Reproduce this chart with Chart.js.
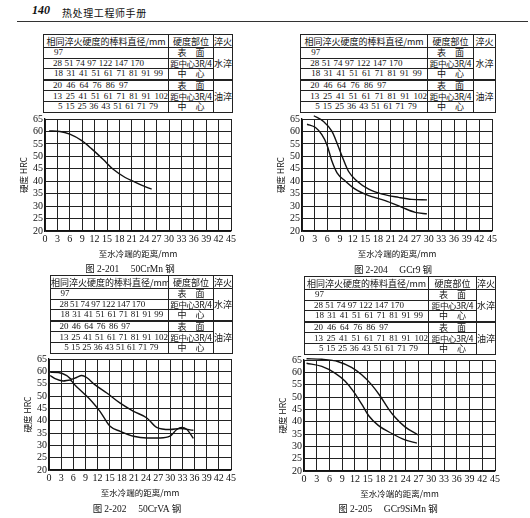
<!DOCTYPE html>
<html><head><meta charset="utf-8">
<script src="https://cdn.jsdelivr.net/npm/chart.js@4.4.0/dist/chart.umd.min.js"></script>
<style>
body{margin:0;width:530px;height:518px;background:#fff;position:relative;overflow:hidden;font-family:"Noto Sans CJK SC",sans-serif;color:#111}
.hdr{position:absolute;top:5px;font-size:10px;white-space:nowrap}
.rule{position:absolute;left:17px;top:21px;width:511px;height:1px;background:#333}
table.t{position:absolute;border-collapse:collapse;table-layout:fixed;font-size:9px}
table.t td{border:1px solid #222;padding:0;white-space:nowrap;overflow:hidden;text-align:center;line-height:9px;height:9.6px}
table.t tr.h td{height:12px}
table.t tr.oil td{border-top:2px solid #222}
table.t td.n{text-align:left;font-family:"Liberation Serif",serif;font-size:9px}
.n div{display:flex;justify-content:space-between}
.cap{position:absolute;font-size:9.5px;white-space:nowrap;transform:translateX(-50%)}
.cap b{font-weight:normal;font-family:"Liberation Serif",serif}
</style></head>
<body>
<div class="hdr" style="left:32px;font:italic bold 12px 'Liberation Serif',serif;top:3px">140</div>
<div class="hdr" style="left:62px;letter-spacing:0.6px">热处理工程师手册</div>
<div class="rule"></div>
<script>
// hardness curves, distance from quenched end (mm) vs HRC
const crmnDist = [1, 3.6, 6, 8.9, 11.3, 14.1, 16.5, 19.4, 21.4, 23.8, 25.8]
const crmnHrc  = [60.2, 60, 58.9, 56.3, 53, 48.7, 44.8, 41.5, 39.9, 38.1, 36.8]

const gcr9UpDist = [2.8, 5.1, 7.1, 8.3, 9.5, 11, 13, 15.8, 19, 22.9, 26, 29.6]
const gcr9UpHrc  = [66.3, 64, 60, 55.3, 50, 44, 40.1, 36.8, 34.8, 33.5, 32.7, 32.5]
const gcr9LoDist = [1.2, 3.2, 4.7, 5.9, 7.1, 8.3, 10.3, 12.6, 15.8, 19.7, 23.7, 26.8, 29.6]
const gcr9LoHrc  = [62.9, 61.6, 58.7, 54.7, 48, 43.4, 40, 36.8, 34.2, 32.2, 29.5, 27.5, 26.9]

const crvaUpDist = [0.3, 2.3, 4.4, 5.6, 6.8, 8.1, 9.3, 11.4, 14.3, 17.6, 20.9, 24.2, 26.6, 29.9, 32.4, 35.7]
const crvaUpHrc  = [59.6, 59.5, 58.3, 56.8, 57.5, 58.3, 57.5, 54.5, 51.2, 47.1, 43.8, 41.1, 37.3, 36.4, 36.8, 36.1]
const crvaLoDist = [0.3, 1.5, 3.5, 5.2, 6.4, 8.5, 10.6, 12.6, 15.1, 17.6, 20.9, 24.2, 27.5, 29.9, 31.6, 32.8, 34.1, 35.7]
const crvaLoHrc  = [58.3, 57, 56.1, 56.5, 54.5, 51.2, 47.8, 43.8, 37.7, 35.7, 33.7, 33, 33, 33.7, 36.4, 37.3, 36.4, 32.8]

const simnUpDist = [0.6, 4.2, 8.1, 11.2, 13.6, 15.9, 17.9, 19.9, 21.4, 23.8, 26.9]
const simnUpHrc  = [65.5, 65.3, 64.3, 62, 59, 55, 50.5, 45.2, 41.9, 37.9, 34.6]
const simnLoDist = [0.6, 4.2, 7.3, 9.7, 11.6, 13.6, 15.2, 17.5, 20.7, 23.8, 26.6]
const simnLoHrc  = [63.7, 62.4, 59.7, 56.4, 52.4, 47.1, 42.5, 38.5, 35.2, 32.6, 31.3]

// bar diameters giving equal hardness (same table on all four figures)
const waterSurface = [97]
const waterMid = [28, 51, 74, 97, 122, 147, 170]
const waterCore = [18, 31, 41, 51, 61, 71, 81, 91, 99]
const oilSurface = [20, 46, 64, 76, 86, 97]
const oilMid = [13, 25, 41, 51, 61, 71, 81, 91, 102]
const oilCore = [5, 15, 25, 36, 43, 51, 61, 71, 79]

const distTicks = [0, 45, 3]
const hrcTicks = [20, 65, 5]

// where each number row sits inside the first column (px, for a 125px column)
const rowSpan = [[10, 24], [9, 100], [10, 119], [9, 84], [9, 124], [14, 114]]

const panels = [
  { L:45, T:117, R:231, B:231, tbl:[43,34,125,45,19], cap:['2-201','50CrMn'], capX:130, capY:261,
    series:[{d:crmnDist, h:crmnHrc}] },
  { L:302, T:117, R:492, B:231, tbl:[300,34,127,46,22], cap:['2-204','GCr9'], capX:393, capY:262,
    series:[{d:gcr9UpDist, h:gcr9UpHrc, noclip:true}, {d:gcr9LoDist, h:gcr9LoHrc}] },
  { L:49, T:357, R:231, B:470, tbl:[50,275,118,45,19], cap:['2-202','50CrVA'], capX:137, capY:501,
    series:[{d:crvaUpDist, h:crvaUpHrc}, {d:crvaLoDist, h:crvaLoHrc}] },
  { L:304, T:358, R:495, B:471, tbl:[304,276,124,48,19], cap:['2-205','GCr9SiMn'], capX:388, capY:501,
    series:[{d:simnUpDist, h:simnUpHrc, noclip:true}, {d:simnLoDist, h:simnLoHrc}] }
]

function nums(arr, k, c1){
  const s = c1/125, [a,b] = rowSpan[k]
  return `<div style="margin-left:${a*s}px;width:${(b-a)*s}px">` + arr.map(v=>`<span>${v}</span>`).join('') + '</div>'
}

function makeTable(p){
  const [x,y,c1,c2,c3] = p.tbl
  const t = document.createElement('table')
  t.className = 't'
  t.style.left = x+'px'; t.style.top = y+'px'; t.style.width = (c1+c2+c3)+'px'
  const mid = 'style="font-size:8.5px;letter-spacing:-0.3px"'
  t.innerHTML = `<colgroup><col style="width:${c1}px"><col style="width:${c2}px"><col style="width:${c3}px"></colgroup>
  <tr class="h"><td>相同淬火硬度的棒料直径/mm</td><td>硬度部位</td><td>淬火</td></tr>
  <tr><td class="n">${nums(waterSurface,0,c1)}</td><td>表　面</td><td rowspan="3">水淬</td></tr>
  <tr><td class="n">${nums(waterMid,1,c1)}</td><td ${mid}>距中心3R/4</td></tr>
  <tr><td class="n">${nums(waterCore,2,c1)}</td><td>中　心</td></tr>
  <tr class="oil"><td class="n">${nums(oilSurface,3,c1)}</td><td>表　面</td><td rowspan="3">油淬</td></tr>
  <tr><td class="n">${nums(oilMid,4,c1)}</td><td ${mid}>距中心3R/4</td></tr>
  <tr><td class="n">${nums(oilCore,5,c1)}</td><td>中　心</td></tr>`
  document.body.appendChild(t)
}

function makeChart(p){
  const padL = 32, padT = 6, padR = 8, axH = 31
  const w = p.R - p.L + padL + padR, h = p.B - p.T + padT + axH
  const cv = document.createElement('canvas')
  cv.width = w; cv.height = h
  cv.style.cssText = `position:absolute;left:${p.L-padL}px;top:${p.T-padT}px;width:${w}px;height:${h}px`
  document.body.appendChild(cv)
  const tickFont = { family:'Liberation Serif', size:10 }
  const cjk = { family:'Noto Sans CJK SC', size:8.5 }
  new Chart(cv, {
    type:'line',
    data:{ datasets: p.series.map(s=>Object.assign({
      data: s.d.map((x,i)=>({ x, y:s.h[i] })),
      borderColor:'#111', borderWidth:1.4, pointRadius:0,
      tension:0.4, cubicInterpolationMode:'monotone'
    }, s.noclip ? { clip:false } : {})) },
    options:{
      responsive:false, animation:false, devicePixelRatio:1,
      layout:{ padding:{ top:padT, right:padR, left:0, bottom:0 } },
      plugins:{ legend:{ display:false }, tooltip:{ enabled:false } },
      scales:{
        x:{ type:'linear', min:distTicks[0], max:distTicks[1],
          ticks:{ stepSize:distTicks[2], autoSkip:false, maxRotation:0, font:tickFont, color:'#111', padding:2 },
          grid:{ color:'#222', lineWidth:1, drawTicks:false }, border:{ color:'#111', width:1.3 },
          title:{ display:true, text:'至水冷端的距离/mm', font:cjk, color:'#111', padding:{ top:0, bottom:3 } },
          afterFit: s=>{ s.height = axH } },
        y:{ min:hrcTicks[0], max:hrcTicks[1],
          ticks:{ stepSize:hrcTicks[2], autoSkip:false, font:tickFont, color:'#111', padding:2 },
          grid:{ color:'#222', lineWidth:1, drawTicks:false }, border:{ color:'#111', width:1.3 },
          title:{ display:true, text:'硬度 HRC', font:cjk, color:'#111', padding:{ top:6, bottom:0 } },
          afterFit: s=>{ s.width = padL } }
      }
    }
  })
}

function makeCaption(p){
  const c = document.createElement('div')
  c.className = 'cap'
  c.style.left = p.capX+'px'; c.style.top = p.capY+'px'
  c.innerHTML = `图 <b>${p.cap[0]}</b>　 <b>${p.cap[1]}</b> 钢`
  document.body.appendChild(c)
}

panels.forEach(p=>{ makeTable(p); makeChart(p); makeCaption(p) })
</script>
</body></html>
